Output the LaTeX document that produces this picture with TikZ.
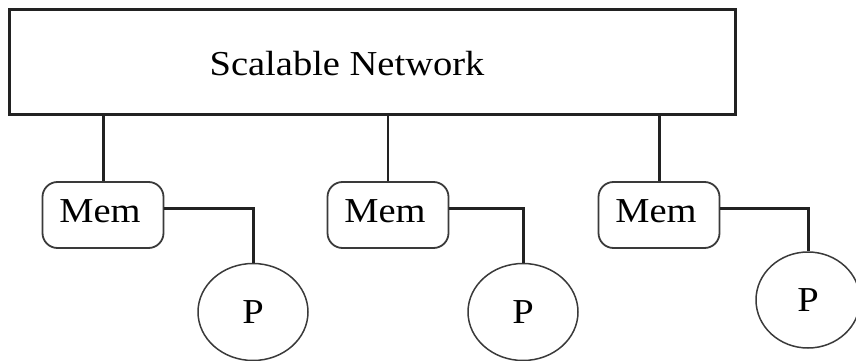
\documentclass[tikz,border=0pt]{standalone}
\usepackage{fontspec}
\setmainfont{Liberation Serif}[FakeStretch=1.1]
\usetikzlibrary{shapes.geometric}
\definecolor{ink}{HTML}{222222}
\definecolor{edge}{HTML}{3A3A3A}
\tikzset{
  netbox/.style={draw=ink, line width=3pt, rectangle, minimum width=726pt, minimum height=104pt, inner sep=0pt},
  membox/.style={draw=edge, line width=1.8pt, rectangle, rounded corners=15pt, minimum width=121pt, minimum height=66pt, inner sep=0pt, font=\fontsize{35}{40}\selectfont},
  procnode/.style={draw=edge, line width=1.5pt, ellipse, minimum width=110pt, minimum height=97pt, inner sep=0pt, font=\fontsize{35}{40}\selectfont},
  lbl/.style={inner sep=0pt, font=\fontsize{35}{40}\selectfont},
  link/.style={draw=ink, line width=3pt},
  thinlink/.style={draw=ink, line width=2pt}
}
\begin{document}
\begin{tikzpicture}[x=1pt,y=1pt]
\useasboundingbox (0,0) rectangle (856,-361);
\node[netbox] (net) at (372,-62) {};
\node[lbl] (nettext) at (347,-64) {Scalable Network};
\node[membox] (mem1) at (103,-215) {};
\node[membox] (mem2) at (388,-215) {};
\node[membox] (mem3) at (659,-215) {};
\node[lbl] (mt1) at (100,-211) {Mem};
\node[lbl] (mt2) at (385,-211) {Mem};
\node[lbl] (mt3) at (656,-211) {Mem};
\node[procnode] (p1) at (253,-312) {P};
\node[procnode] (p2) at (523,-312) {P};
\node[procnode, minimum width=104pt, minimum height=96pt] (p3) at (808,-300) {P};
\draw[link] (net.south -| mem1.north) -- (mem1.north);
\draw[thinlink] (net.south -| mem2.north) -- (mem2.north);
\draw[link] (net.south -| mem3.north) -- (mem3.north);
\draw[link] ([yshift=7pt]mem1.east) -| (p1.north);
\draw[link] ([yshift=7pt]mem2.east) -| (p2.north);
\draw[link] ([yshift=7pt]mem3.east) -| (p3.north);
\end{tikzpicture}
\end{document}
